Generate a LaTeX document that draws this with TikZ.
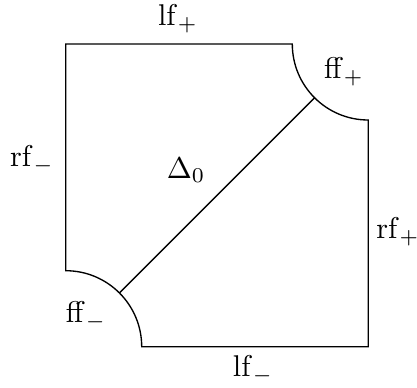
\documentclass[tikz,border=0pt]{standalone}
\usepackage{amsmath,amssymb}
\usepackage{tikz}

\begin{document}
\begin{tikzpicture}[
    x=0.0117cm, y=0.0117cm,
    face/.style={inner sep=1pt},
    edge/.style={line width=0.45pt}
  ]
  \useasboundingbox (0,0) rectangle (417,387);
  % corners of the blown-up square
  \coordinate (tl) at (65.7,343);
  \coordinate (tr) at (368.3,343);
  \coordinate (br) at (368.3,40.3);
  \coordinate (bl) at (65.7,40.3);
  \coordinate (dtop) at ([shift={(225:76)}]tr);
  \coordinate (dbot) at ([shift={(45:76)}]bl);

  \draw[edge] (tl) -- (292.3,343) arc[start angle=180,end angle=270,radius=76]
    -- (br) -- (141.7,40.3) arc[start angle=0,end angle=90,radius=76] -- cycle;
  \draw[edge] (dbot) -- (dtop);

  \node[face] (lfp) at (178,368) {$\mathrm{lf}_+$};
  \node[face] (ffp) at (344,315) {$\mathrm{ff}_+$};
  \node[face] (rfm) at (32,227)  {$\mathrm{rf}_-$};
  \node[face] (dz)  at (186,217) {$\Delta_0$};
  \node[face] (rfp) at (398,155) {$\mathrm{rf}_+$};
  \node[face] (ffm) at (86,71)   {$\mathrm{ff}_-$};
  \node[face] (lfm) at (253,17)  {$\mathrm{lf}_-$};
\end{tikzpicture}
\end{document}
